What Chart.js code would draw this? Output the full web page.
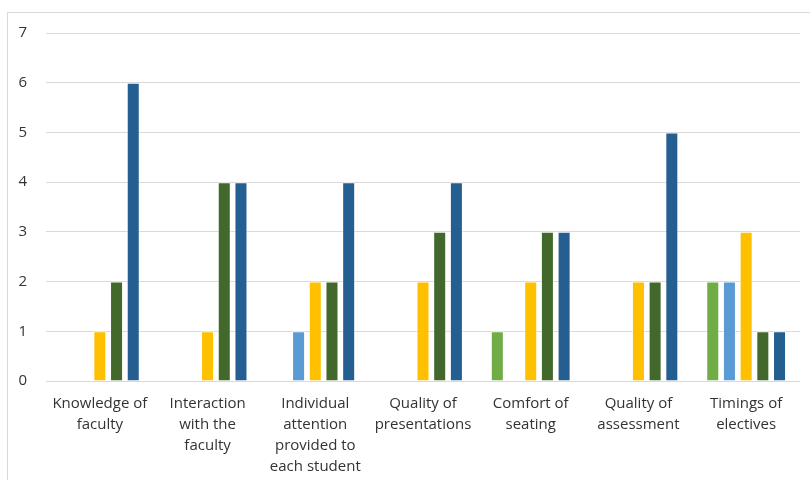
<!DOCTYPE html>
<html>
<head>
<meta charset="utf-8">
<script src="https://cdn.jsdelivr.net/npm/chart.js@4"></script>
<style>
  html, body { margin: 0; padding: 0; background: #fff; }
  #frame {
    position: absolute; left: 7px; top: 12px;
    width: 820px; height: 490px;
    border: 1px solid #d9d9d9;
  }
  #wrap { position: absolute; left: 0; top: 0; width: 810px; height: 480px; }
</style>
</head>
<body>
<div id="frame"></div>
<div id="wrap"><canvas id="survey"></canvas></div>
<script>
// Feedback categories (multi-line labels)
const categories = [
  ["Knowledge of", "faculty"],
  ["Interaction", "with the", "faculty"],
  ["Individual", "attention", "provided to", "each student"],
  ["Quality of", "presentations"],
  ["Comfort of", "seating"],
  ["Quality of", "assessment"],
  ["Timings of", "electives"],
];

// Response counts per rating series
const series1 = [0, 0, 0, 0, 1, 0, 2];
const series2 = [0, 0, 1, 0, 0, 0, 2];
const series3 = [1, 1, 2, 2, 2, 2, 3];
const series4 = [2, 4, 2, 3, 3, 2, 1];
const series5 = [6, 4, 4, 4, 3, 5, 1];

const yTicks = [0, 1, 2, 3, 4, 5, 6, 7];

const colors = ["#70ad47", "#5b9bd5", "#ffc000", "#43682b", "#255e91"];
const values = [series1, series2, series3, series4, series5];

const config = {
  type: "bar",
  data: {
    labels: categories,
    datasets: values.map((v, i) => ({
      label: "Series " + (i + 1),
      data: v,
      backgroundColor: colors[i],
      borderColor: "rgba(255,255,255,0.6)",
      borderWidth: (ctx) => (ctx.raw ? 1 : 0),
      borderSkipped: "start",
      categoryPercentage: 0.775,
      barPercentage: 0.78,
    })),
  },
  options: {
    responsive: true,
    maintainAspectRatio: false,
    animation: false,
    layout: { padding: { left: 0, right: 10, top: 33, bottom: 0 } },
    plugins: { legend: { display: false }, tooltip: { enabled: false } },
    scales: {
      x: {
        grid: { display: false, drawTicks: false },
        border: { display: false },
        ticks: {
          color: "#333333",
          font: { family: "Open Sans", size: 15, lineHeight: 1.4 },
          padding: 12,
          maxRotation: 0,
          autoSkip: false,
        },
        afterFit: (axis) => { axis.height = 99; },
      },
      y: {
        min: 0,
        max: 7,
        afterBuildTicks: (axis) => { axis.ticks = yTicks.map((v) => ({ value: v })); },
        grid: { color: "#d9d9d9", drawTicks: false },
        border: { display: false },
        ticks: {
          color: "#333333",
          font: { family: "Open Sans", size: 15 },
          padding: 19,
        },
        afterFit: (axis) => { axis.width = 46; },
      },
    },
  },
};

const canvas = document.getElementById("survey");
const chart = new Chart(canvas, config);
</script>
</body>
</html>
